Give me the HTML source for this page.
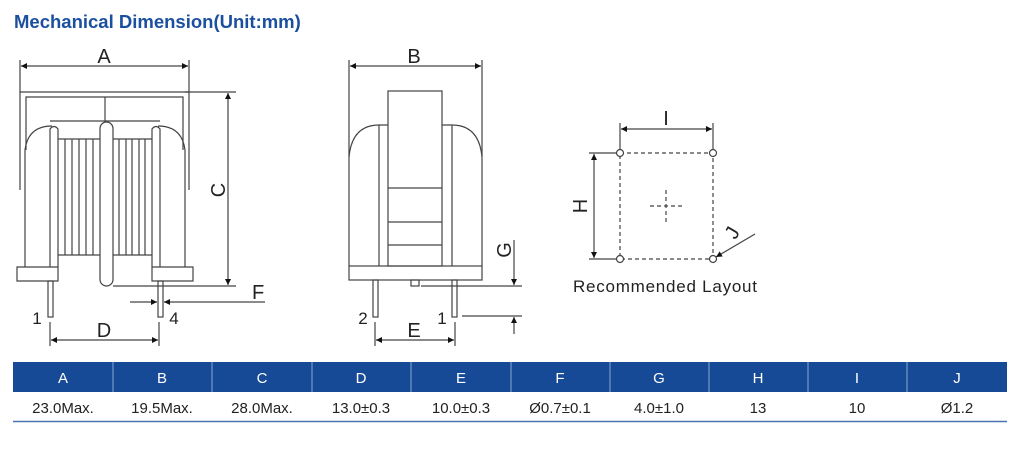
<!DOCTYPE html>
<html><head><meta charset="utf-8"><style>
html,body{margin:0;padding:0;background:#fff;width:1024px;height:454px;overflow:hidden;font-family:"Liberation Sans",sans-serif}
svg{position:absolute;left:0;top:0}
</style></head><body>
<svg width="1024" height="454" viewBox="0 0 1024 454" xmlns="http://www.w3.org/2000/svg">
<defs>
<marker id="ar" viewBox="0 0 10 10" refX="10" refY="5" markerWidth="11" markerHeight="6" orient="auto-start-reverse" markerUnits="userSpaceOnUse"><path d="M0,0 L10,5 L0,10 z" fill="#111"/></marker>
</defs>
<text x="14" y="28" font-size="18.5" font-weight="bold" fill="#1b4f9f" font-family="Liberation Sans, sans-serif">Mechanical Dimension(Unit:mm)</text>

<g stroke="#444" stroke-width="1.2" fill="none">
<line x1="20" y1="60" x2="20" y2="92"/><line x1="189" y1="60" x2="189" y2="92"/>
<line x1="21" y1="66" x2="188" y2="66" marker-start="url(#ar)" marker-end="url(#ar)"/>
<path d="M20,190 V92 H189 V190"/>
<path d="M26,150 V97 H183 V150"/>
<line x1="105" y1="97" x2="105" y2="122"/>
<line x1="50" y1="121" x2="160" y2="121"/>
<path d="M25,190 V150 Q28,126 52,126"/>
<path d="M185,190 V150 Q182,126 158,126"/>
<line x1="25" y1="190" x2="25" y2="267"/><line x1="185" y1="190" x2="185" y2="267"/>
<path d="M50,267 V129 Q54,124 58,129 V267"/>
<path d="M152,267 V129 Q156,124 160,129 V267"/>
<path d="M17,267 H58 V281 H17 Z" fill="#fff"/>
<path d="M152,267 H193 V281 H152 Z" fill="#fff"/>
<path d="M58,139 H100 M113,139 H152 M58,255 H100 M113,255 H152"/>
<path d="M65,139V255 M72,139V255 M79,139V255 M86,139V255 M93,139V255 M119,139V255 M126,139V255 M132,139V255 M139,139V255 M145,139V255"/>
<rect x="100" y="122" width="13" height="164" rx="6.5" fill="#fff"/>
<rect x="48" y="281" width="5" height="36"/><rect x="158" y="281" width="5" height="36"/>
<line x1="185" y1="92" x2="236" y2="92"/><line x1="113" y1="286" x2="236" y2="286"/>
<line x1="228" y1="93" x2="228" y2="285" marker-start="url(#ar)" marker-end="url(#ar)"/>
<line x1="130" y1="302" x2="157" y2="302" marker-end="url(#ar)"/>
<line x1="265" y1="302" x2="164" y2="302" marker-end="url(#ar)"/>
<line x1="50" y1="322" x2="50" y2="346"/><line x1="159" y1="322" x2="159" y2="346"/>
<line x1="51" y1="340" x2="158" y2="340" marker-start="url(#ar)" marker-end="url(#ar)"/>

<line x1="349" y1="60" x2="349" y2="157"/><line x1="482" y1="60" x2="482" y2="157"/>
<line x1="350" y1="66" x2="481" y2="66" marker-start="url(#ar)" marker-end="url(#ar)"/>
<path d="M349,266 V157 Q352,125 379,125 H388"/>
<path d="M482,266 V157 Q479,125 452,125 H442"/>
<line x1="379" y1="125" x2="379" y2="266"/><line x1="452" y1="125" x2="452" y2="266"/>
<rect x="388" y="91" width="54" height="175"/>
<path d="M388,188H442 M388,222H442 M388,245H442"/>
<rect x="349" y="266" width="133" height="14"/>
<rect x="411" y="280" width="8" height="6"/>
<rect x="373" y="280" width="5" height="37"/><rect x="452" y="280" width="5" height="37"/>
<line x1="421" y1="286" x2="522" y2="286"/>
<line x1="462" y1="316" x2="522" y2="316"/>
<line x1="514" y1="240" x2="514" y2="285" marker-end="url(#ar)"/>
<line x1="514" y1="334" x2="514" y2="317" marker-end="url(#ar)"/>
<line x1="375" y1="322" x2="375" y2="346"/><line x1="455" y1="322" x2="455" y2="346"/>
<line x1="376" y1="340" x2="454" y2="340" marker-start="url(#ar)" marker-end="url(#ar)"/>

<line x1="620" y1="123" x2="620" y2="150"/><line x1="713" y1="123" x2="713" y2="150"/>
<line x1="621" y1="129" x2="712" y2="129" marker-start="url(#ar)" marker-end="url(#ar)"/>
<line x1="589" y1="153" x2="617" y2="153"/><line x1="589" y1="259" x2="617" y2="259"/>
<line x1="594" y1="154" x2="594" y2="258" marker-start="url(#ar)" marker-end="url(#ar)"/>
<rect x="620" y="153" width="93" height="106" stroke-dasharray="4,3"/>
<path d="M650,206H684 M666,190V222" stroke-dasharray="4,3"/>
<circle cx="620" cy="153" r="3.5" fill="#fff"/><circle cx="713" cy="153" r="3.5" fill="#fff"/>
<circle cx="620" cy="259" r="3.5" fill="#fff"/><circle cx="713" cy="259" r="3.5" fill="#fff"/>
<line x1="755" y1="234" x2="716" y2="257" marker-end="url(#ar)"/>
</g>

<g font-family="Liberation Sans, sans-serif" font-size="20" fill="#222">
<text x="104" y="63" text-anchor="middle">A</text>
<text x="414" y="63" text-anchor="middle">B</text>
<text transform="translate(225,190) rotate(-90)" text-anchor="middle">C</text>
<text x="104" y="337" text-anchor="middle">D</text>
<text x="414" y="337" text-anchor="middle">E</text>
<text x="252" y="299">F</text>
<text transform="translate(511,250) rotate(-90)" text-anchor="middle">G</text>
<text transform="translate(587,206) rotate(-90)" text-anchor="middle">H</text>
<text x="666" y="125" text-anchor="middle">I</text>
<text transform="translate(738,236) rotate(-60)" text-anchor="middle">J</text>
<text x="37" y="324" text-anchor="middle" font-size="17">1</text>
<text x="174" y="324" text-anchor="middle" font-size="17">4</text>
<text x="363" y="324" text-anchor="middle" font-size="17">2</text>
<text x="442" y="324" text-anchor="middle" font-size="17">1</text>
<text x="573" y="292" font-size="17" textLength="184" lengthAdjust="spacing">Recommended Layout</text>
</g>

<rect x="13" y="362" width="994" height="30" fill="#174a96"/>
<g stroke="#8aa6d2" stroke-width="1">
<line x1="113" y1="362" x2="113" y2="392"/><line x1="212" y1="362" x2="212" y2="392"/>
<line x1="312" y1="362" x2="312" y2="392"/><line x1="411" y1="362" x2="411" y2="392"/>
<line x1="511" y1="362" x2="511" y2="392"/><line x1="610" y1="362" x2="610" y2="392"/>
<line x1="709" y1="362" x2="709" y2="392"/><line x1="808" y1="362" x2="808" y2="392"/>
<line x1="907" y1="362" x2="907" y2="392"/>
</g>
<line x1="13" y1="421.5" x2="1007" y2="421.5" stroke="#4a72b0" stroke-width="1.5"/>
<g font-family="Liberation Sans, sans-serif" font-size="15" text-anchor="middle">
<g fill="#fff">
<text x="63" y="383">A</text><text x="162" y="383">B</text><text x="262" y="383">C</text>
<text x="361" y="383">D</text><text x="461" y="383">E</text><text x="560" y="383">F</text>
<text x="659" y="383">G</text><text x="758" y="383">H</text><text x="857" y="383">I</text>
<text x="957" y="383">J</text>
</g>
<g fill="#222">
<text x="63" y="413">23.0Max.</text><text x="162" y="413">19.5Max.</text><text x="262" y="413">28.0Max.</text>
<text x="361" y="413">13.0±0.3</text><text x="461" y="413">10.0±0.3</text><text x="560" y="413">Ø0.7±0.1</text>
<text x="659" y="413">4.0±1.0</text><text x="758" y="413">13</text><text x="857" y="413">10</text>
<text x="957" y="413">Ø1.2</text>
</g>
</g>
</svg>
</body></html>
